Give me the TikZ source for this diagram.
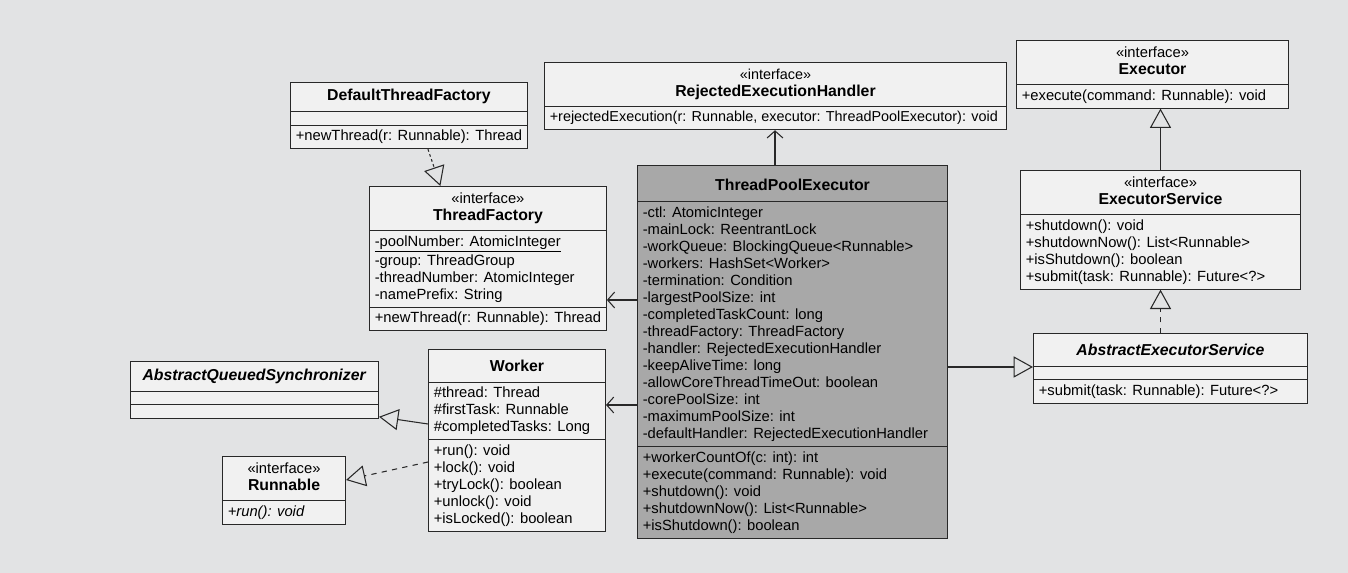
\documentclass[tikz,border=0pt]{standalone}
\usepackage{fontspec}
\usepackage{tikz}
\usetikzlibrary{shapes.multipart, arrows.meta, calc}
\newfontfamily\umlfont{Liberation Sans}
\definecolor{paper}{RGB}{226,227,228}
\definecolor{boxfill}{RGB}{241,241,241}
\definecolor{tpefill}{RGB}{168,168,168}
\definecolor{ink}{RGB}{40,40,40}
\newcommand{\iface}[1]{\begin{tabular}{@{}c@{}}«interface»\\{\fontsize{9}{10}\selectfont\textbf{#1}}\end{tabular}}
\newcommand{\cname}[2][10pt]{\rule[-3.5pt]{0pt}{#1}{\fontsize{9}{10}\selectfont\textbf{#2}}}
\newcommand{\nopart}{\rule{0pt}{2pt}}

\begin{document}
\begin{tikzpicture}[x=0.02cm, y=-0.02cm,
  umlclass/.style={rectangle split, rectangle split parts=3, draw=ink, fill=boxfill,
    line width=0.6pt, font=\umlfont\fontsize{8.4}{9.7}\selectfont,
    rectangle split part align={center,left,left}, inner xsep=3pt, inner ysep=2.5pt,
    anchor=north west},
  umllist/.style={umlclass, align=left},
  inherit/.style={draw=ink, line width=0.6pt, -{Triangle[open, length=11pt, width=12pt]}},
  realize/.style={inherit, dashed},
  assoc/.style={draw=ink, line width=0.6pt, -{Straight Barb[length=4pt, width=9pt]}}]

  % Paper
  \fill[paper] (0,0) rectangle (1348,573);
  \useasboundingbox (0,0) rectangle (1348,573);

  % Classes and interfaces
  \node[umlclass, minimum width=4.68cm] (dtf) at (290,82)
    {\cname[11pt]{DefaultThreadFactory}\nodepart{second}\nopart\nodepart{third}+newThread(r: Runnable): Thread};
  \node[umllist, minimum width=4.72cm] (tf) at (369,186)
    {\iface{ThreadFactory}
     \nodepart{second}\underline{-poolNumber: AtomicInteger}\\-group: ThreadGroup\\-threadNumber: AtomicInteger\\-namePrefix: String
     \nodepart{third}+newThread(r: Runnable): Thread};
  \node[umlclass, rectangle split parts=2, minimum width=9.24cm, font=\umlfont\fontsize{8.2}{9.7}\selectfont] (reh) at (544,62)
    {\iface{RejectedExecutionHandler}
     \nodepart{second}+rejectedExecution(r: Runnable, executor: ThreadPoolExecutor): void};
  \node[umlclass, rectangle split parts=2, minimum width=5.44cm] (exec) at (1016,40)
    {\iface{Executor}\nodepart{second}+execute(command: Runnable): void};
  \node[umllist, rectangle split parts=2, minimum width=5.6cm] (es) at (1020,170)
    {\iface{ExecutorService}
     \nodepart{second}+shutdown(): void\\+shutdownNow(): List<Runnable>\\+isShutdown(): boolean\\+submit(task: Runnable): Future<?>};
  \node[umlclass, minimum width=5.48cm] (aes) at (1033,333)
    {\cname[13pt]{\textit{AbstractExecutorService}}\nodepart{second}\nopart\nodepart{third}+submit(task: Runnable): Future<?>};
  \node[umllist, fill=tpefill, minimum width=6.2cm] (tpe) at (637,165)
    {\cname[15pt]{ThreadPoolExecutor}
     \nodepart{second}-ctl: AtomicInteger\\-mainLock: ReentrantLock\\-workQueue: BlockingQueue<Runnable>\\-workers: HashSet<Worker>\\-termination: Condition\\-largestPoolSize: int\\-completedTaskCount: long\\-threadFactory: ThreadFactory\\-handler: RejectedExecutionHandler\\-keepAliveTime: long\\-allowCoreThreadTimeOut: boolean\\-corePoolSize: int\\-maximumPoolSize: int\\-defaultHandler: RejectedExecutionHandler
     \nodepart{third}+workerCountOf(c: int): int\\+execute(command: Runnable): void\\+shutdown(): void\\+shutdownNow(): List<Runnable>\\+isShutdown(): boolean};
  \node[umlclass, minimum width=4.96cm] (aqs) at (130,361)
    {\cname[11.5pt]{\textit{AbstractQueuedSynchronizer}}\nodepart{second}\nopart\nodepart{third}\nopart};
  \node[umllist, minimum width=3.54cm] (wrk) at (428,349)
    {\cname[13pt]{Worker}
     \nodepart{second}\#thread: Thread\\\#firstTask: Runnable\\\#completedTasks: Long
     \nodepart{third}+run(): void\\+lock(): void\\+tryLock(): boolean\\+unlock(): void\\+isLocked(): boolean};
  \node[umlclass, rectangle split parts=2, minimum width=2.46cm] (run) at (222,456)
    {\iface{Runnable}\nodepart{second}\textit{+run(): void}};

  % Connectors
  \coordinate (tpeTf) at ($(tpe.north west)+(0,135)$);
  \coordinate (tpeWrk) at ($(tpe.north west)+(0,240)$);
  \coordinate (tpeAes) at ($(aes.north west)+(0,34)$);
  \coordinate (wrkAqs) at ($(wrk.north west)+(0,75)$);
  \coordinate (wrkRun) at ($(wrk.north west)+(0,113)$);
  \coordinate (rehIn) at ($(tpe.north west)+(138,0)$);

  \draw[inherit, dash pattern=on 1.5pt off 1.5pt] ($(dtf.south west)!0.58!(dtf.south east)$) -- ($(tf.north west)!0.3!(tf.north east)$);
  \draw[assoc] (rehIn) -- (rehIn |- reh.south);
  \draw[assoc] (tpeTf) -- (tpeTf -| tf.east);
  \draw[assoc] (tpeWrk) -- (tpeWrk -| wrk.east);
  \draw[inherit] (wrkAqs) -- ($(aqs.south east)+(0,-2)$);
  \draw[realize] (wrkRun) -- ($(run.north east)+(0,24)$);
  \draw[inherit] (tpeAes -| tpe.east) -- (tpeAes);
  \draw[inherit] (es.north) -- (es.north |- exec.south);
  \draw[realize] (aes.north -| es.south) -- (es.south);
\end{tikzpicture}
\end{document}
